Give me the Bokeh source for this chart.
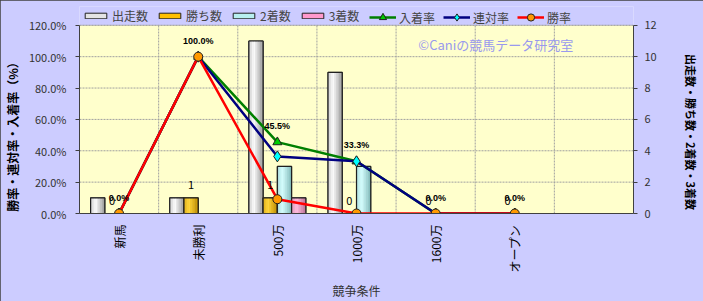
import numpy as np
from bokeh.plotting import figure
from bokeh.models import (Range1d, LinearAxis, FixedTicker, ColumnDataSource, LabelSet,
                          Label, Legend, LegendItem, PrintfTickFormatter, BoxAnnotation)
from bokeh.embed import file_html
from bokeh.resources import INLINE
from bokeh.core.properties import value

categories = ["新馬", "未勝利", "500万", "1000万", "1600万", "オープン"]
starts = [1, 1, 11, 9, 0, 0]
wins = [0, 1, 1, 0, 0, 0]
seconds = [0, 0, 3, 3, 0, 0]
thirds = [0, 0, 1, 0, 0, 0]
place_rate = [0.0, 100.0, 45.5, 33.3, 0.0, 0.0]
rentai_rate = [0.0, 100.0, 36.4, 33.3, 0.0, 0.0]
win_rate = [0.0, 100.0, 9.1, 0.0, 0.0, 0.0]
pct_ticks = [0, 20, 40, 60, 80, 100, 120]
cnt_ticks = [0, 2, 4, 6, 8, 10, 12]

JP = "Noto Sans CJK JP"
n = len(categories)
xs = np.arange(n)
XL, XR = -0.5, n + 0.5
PMAX, CMAX = pct_ticks[-1], cnt_ticks[-1]

p = figure(width=703, height=301, output_backend="svg", toolbar_location=None,
           x_range=Range1d(XL, XR), y_range=Range1d(0, PMAX * 1.1),
           min_border_left=78, min_border_right=70, min_border_top=6, min_border_bottom=88)
p.extra_y_ranges = {"cnt": Range1d(0, CMAX * 1.1)}
p.background_fill_color = "#CCCCFF"
p.border_fill_color = "#CCCCFF"
p.outline_line_color = None
p.styles = {"outline": "1px solid #404040", "outline-offset": "-1px"}
p.xgrid.visible = False
p.ygrid.visible = False

# plot area
p.add_layout(BoxAnnotation(left=XL, right=XR, bottom=0, top=PMAX, fill_color="#FFFFCC",
                           fill_alpha=1, line_color="#808080", line_width=1, level="underlay"))
# grid lines
p.segment(x0=[i + 0.5 for i in range(n)], x1=[i + 0.5 for i in range(n)],
          y0=[0] * n, y1=[PMAX] * n, line_color="#A0A0A0", line_dash="2 1", line_width=1)
p.segment(x0=[XL] * len(pct_ticks), x1=[XR] * len(pct_ticks), y0=pct_ticks, y1=pct_ticks,
          line_color="#A0A0A0", line_dash="2 1", line_width=1)

# axes
p.xaxis.ticker = FixedTicker(ticks=list(xs))
p.xaxis.major_label_overrides = {int(i): c for i, c in zip(xs, categories)}
p.xaxis.major_label_orientation = np.pi / 2
p.xaxis.major_label_text_font = JP
p.xaxis.major_label_text_font_size = "12px"
p.xaxis.major_label_text_color = "#000000"
p.xaxis.major_tick_line_color = None
p.xaxis.minor_tick_line_color = None
p.xaxis.axis_line_color = "#404040"
p.xaxis.axis_label = "競争条件"
p.xaxis.axis_label_text_font = JP
p.xaxis.axis_label_text_font_style = "normal"
p.xaxis.axis_label_text_font_size = "12px"
p.xaxis.axis_label_text_color = "#333333"
p.xaxis.axis_label_standoff = 6

p.yaxis.ticker = FixedTicker(ticks=pct_ticks)
p.yaxis.bounds = (0, PMAX)
p.yaxis.formatter = PrintfTickFormatter(format="%.1f%%")
p.yaxis.major_label_text_font = JP
p.yaxis.major_label_text_font_size = "11px"
p.yaxis.major_label_text_color = "#333333"
p.yaxis.minor_tick_line_color = None
p.yaxis.axis_line_color = "#404040"
p.yaxis.major_tick_line_color = "#404040"
p.yaxis.major_tick_out = 4
p.yaxis.major_tick_in = 0
p.yaxis.major_label_standoff = 9
p.yaxis.axis_label = "勝率・連対率・入着率（%）　　　　\u2002"
p.yaxis.axis_label_text_font = JP
p.yaxis.axis_label_text_font_style = "bold"
p.yaxis.axis_label_text_font_size = "12px"
p.yaxis.axis_label_text_color = "#000000"
p.yaxis.axis_label_standoff = 5

ax2 = LinearAxis(y_range_name="cnt", ticker=FixedTicker(ticks=cnt_ticks), bounds=(0, CMAX))
ax2.major_label_text_font = JP
ax2.major_label_text_font_size = "11px"
ax2.major_label_text_color = "#333333"
ax2.minor_tick_line_color = None
ax2.axis_line_color = "#404040"
ax2.major_tick_line_color = "#404040"
ax2.major_tick_out = 4
ax2.major_tick_in = 0
ax2.major_label_standoff = 7
ax2.axis_label = "　　　　出走数・勝ち数・2着数・3着数"
ax2.axis_label_text_font = JP
ax2.axis_label_text_font_style = "bold"
ax2.axis_label_text_font_size = "11px"
ax2.axis_label_text_color = "#000000"
ax2.axis_label_standoff = 23
p.add_layout(ax2, "right")


def hexmix(c1, c2, w):
    a = [int(c1[i:i + 2], 16) for i in (1, 3, 5)]
    b = [int(c2[i:i + 2], 16) for i in (1, 3, 5)]
    return "#%02x%02x%02x" % tuple(int(round(x * (1 - w) + y * w)) for x, y in zip(a, b))


# bars
bw = 0.18
K = 9
bar_specs = [("出走数", starts, "#E4E4E4", "#8C8C8C", "#FFFFFF", -1.5),
             ("勝ち数", wins, "#FFC000", "#B08000", "#FFD840", -0.5),
             ("2着数", seconds, "#B8F0F0", "#78B0B0", "#D8FFFF", 0.5),
             ("3着数", thirds, "#FF99CC", "#B06A8C", "#FFC0E0", 1.5)]
bar_items = []
for name, vals, col, dark, light, off in bar_specs:
    cx = xs + off * bw
    src = ColumnDataSource(dict(x=cx, top=vals))
    r = p.vbar(x="x", top="top", width=bw, source=src, y_range_name="cnt",
               fill_color=col, line_color="#202020", line_width=1)
    for k in range(K):
        t = (k + 0.5) / K
        w = max(0.0, 1 - abs(t - 0.35) / 0.65) ** 0.9
        ssrc = ColumnDataSource(dict(x=cx - bw / 2 + t * bw, top=vals))
        p.vbar(x="x", top="top", width=bw / K * 1.05, source=ssrc, y_range_name="cnt",
               fill_color=hexmix(dark, light, w), line_color=None)
    p.vbar(x="x", top="top", width=bw, source=src, y_range_name="cnt",
           fill_color=None, line_color="#202020", line_width=1.2)
    bar_items.append(LegendItem(label=name, renderers=[r]))

# lines
line_specs = [("入着率", place_rate, "#008000", "triangle", "#00CC00"),
              ("連対率", rentai_rate, "#000080", "diamond", "#00FFFF"),
              ("勝率", win_rate, "#FF0000", "circle", "#FF9900")]
line_items = []
for name, vals, col, mk, mcol in line_specs:
    src = ColumnDataSource(dict(x=xs, y=vals))
    l = p.line("x", "y", source=src, line_color=col, line_width=2.5)
    s = p.scatter("x", "y", source=src, marker=mk, size=9 if mk != "diamond" else 11,
                  fill_color=mcol, line_color="#202020", line_width=1)
    line_items.append(LegendItem(label=name, renderers=[l, s]))

# data labels
lab_src = ColumnDataSource(dict(x=xs, y=place_rate, t=["%.1f%%" % v for v in place_rate]))
p.add_layout(LabelSet(x="x", y="y", text="t", source=lab_src, y_offset=16,
                      text_align="center", text_baseline="middle",
                      text_font=value("Liberation Sans"), text_font_size="9px",
                      text_font_style="bold", text_color="#000000"))
win_src = ColumnDataSource(dict(x=xs - 0.5 * bw, y=wins, t=[str(v) for v in wins]))
p.add_layout(LabelSet(x="x", y="y", text="t", source=win_src, y_range_name="cnt", y_offset=13,
                      text_align="center", text_baseline="middle",
                      text_font=value(JP), text_font_size="11px", text_color="#000000"))

# watermark
p.add_layout(Label(x=4.76, y=107.5, text="©Caniの競馬データ研究室", text_align="center",
                   text_baseline="middle", text_font=JP, text_font_size="13px",
                   text_color="#9999EE"))

leg_common = dict(orientation="horizontal", background_fill_alpha=0, border_line_color=None,
                  label_text_font=JP, label_text_font_size="12px", glyph_width=27,
                  label_standoff=3, spacing=8, padding=0, margin=0, label_height=14)
legend1 = Legend(items=bar_items, location=(3, 189), glyph_height=7, **leg_common)
legend2 = Legend(items=line_items, location=(290, 187), glyph_height=18, **leg_common)
p.add_layout(legend1, "center")
p.add_layout(legend2, "center")

open("out.html", "w").write(file_html(p, INLINE))
